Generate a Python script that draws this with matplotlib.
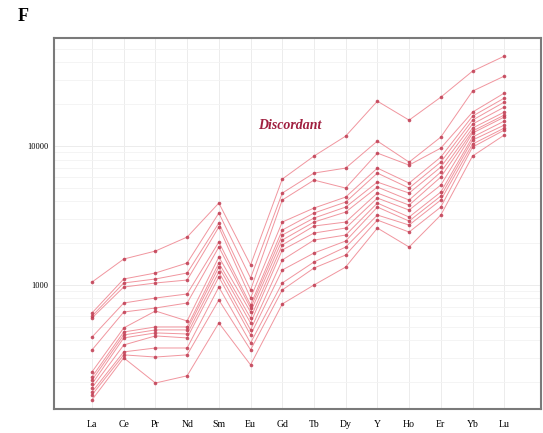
import numpy as np
import matplotlib.pyplot as plt

plt.rcParams['font.family'] = ['Liberation Serif', 'DejaVu Serif']

elements = ['La', 'Ce', 'Pr', 'Nd', 'Sm', 'Eu', 'Gd', 'Tb', 'Dy', 'Y', 'Ho', 'Er', 'Yb', 'Lu']

# chondrite-normalised values, one list per element, one entry per grain
La = [1050, 629, 598, 579, 422, 341, 237, 218, 207, 194, 182, 170, 162, 149]
Ce = [1538, 1105, 1034, 967, 742, 639, 491, 459, 437, 416, 370, 330, 314, 299]
Pr = [1756, 1220, 1105, 1034, 806, 683, 650, 499, 475, 452, 430, 352, 303, 197]
Nd = [2214, 1440, 1220, 1086, 862, 742, 551, 499, 475, 444, 416, 352, 314, 222]
Sm = [3890, 3296, 2793, 2614, 2039, 1877, 1590, 1440, 1347, 1240, 1142, 967, 780, 533]
Eu = [1393, 1123, 921, 806, 718, 683, 639, 579, 533, 475, 437, 383, 341, 266]
Gd = [5789, 4590, 4089, 2839, 2487, 2289, 2107, 1940, 1786, 1513, 1282, 1034, 921, 730]
Tb = [8476, 6394, 5692, 3581, 3296, 3034, 2839, 2658, 2366, 2107, 1699, 1464, 1325, 1000]
Dy = [11800, 6946, 4987, 4297, 3955, 3640, 3351, 2839, 2571, 2289, 2073, 1877, 1644, 1347]
Y = [21070, 10870, 8905, 6946, 6394, 5508, 5070, 4590, 4226, 3890, 3640, 3189, 2935, 2571]
Ho = [15380, 7671, 7299, 5417, 4987, 4590, 4089, 3762, 3463, 3085, 2886, 2702, 2406, 1877]
Er = [22510, 11610, 9674, 8334, 7671, 7062, 6501, 5984, 5241, 4668, 4368, 4089, 3640, 3189]
Yb = [34640, 24870, 17560, 16430, 15380, 14400, 13480, 12820, 12400, 11610, 11050, 10340, 9835, 8476]
Lu = [44410, 31890, 24060, 22140, 20730, 19080, 17560, 16710, 16170, 15130, 14160, 13480, 13030, 12000]

table = np.array([La, Ce, Pr, Nd, Sm, Eu, Gd, Tb, Dy, Y, Ho, Er, Yb, Lu])
x = np.arange(len(elements))

fig = plt.figure(figsize=(5.43, 4.33), dpi=100)
ax = fig.add_axes([0.0994, 0.0554, 0.8969, 0.8568])

for i in range(table.shape[1]):
    ax.plot(x, table[:, i], color='#ef8a94', lw=0.7, alpha=0.9, zorder=2)
    ax.plot(x, table[:, i], ls='none', marker='o', ms=2.6, mew=0,
            color='#c03a50', alpha=0.85, zorder=3)

ax.set_yscale('log')
ax.set_ylim(128, 60000)
ax.set_xlim(-1.2, 14.16)
ax.set_xticks(x)
ax.set_xticklabels(elements, fontsize=7)
ax.set_yticks([1000, 10000])
ax.set_yticklabels(['1000', '10000'], fontsize=6)
ax.yaxis.set_minor_formatter(plt.NullFormatter())
ax.tick_params(which='both', length=0)
ax.tick_params(axis='x', pad=8)
ax.tick_params(axis='y', pad=4)

ax.grid(which='major', color='#ececec', lw=0.7, zorder=0)
ax.grid(which='minor', axis='y', color='#f2f2f2', lw=0.6, zorder=0)
ax.set_axisbelow(True)
for s in ax.spines.values():
    s.set_color('#7a7a7a')
    s.set_linewidth(1.5)

ax.text(6.25, 14160, 'Discordant', color='#a02040', fontsize=10,
        style='italic', fontweight='bold', ha='center', va='center')
fig.text(0.042, 0.963, 'F', fontsize=13, fontweight='bold', ha='center', va='center')

plt.savefig('out.png', dpi=100)
